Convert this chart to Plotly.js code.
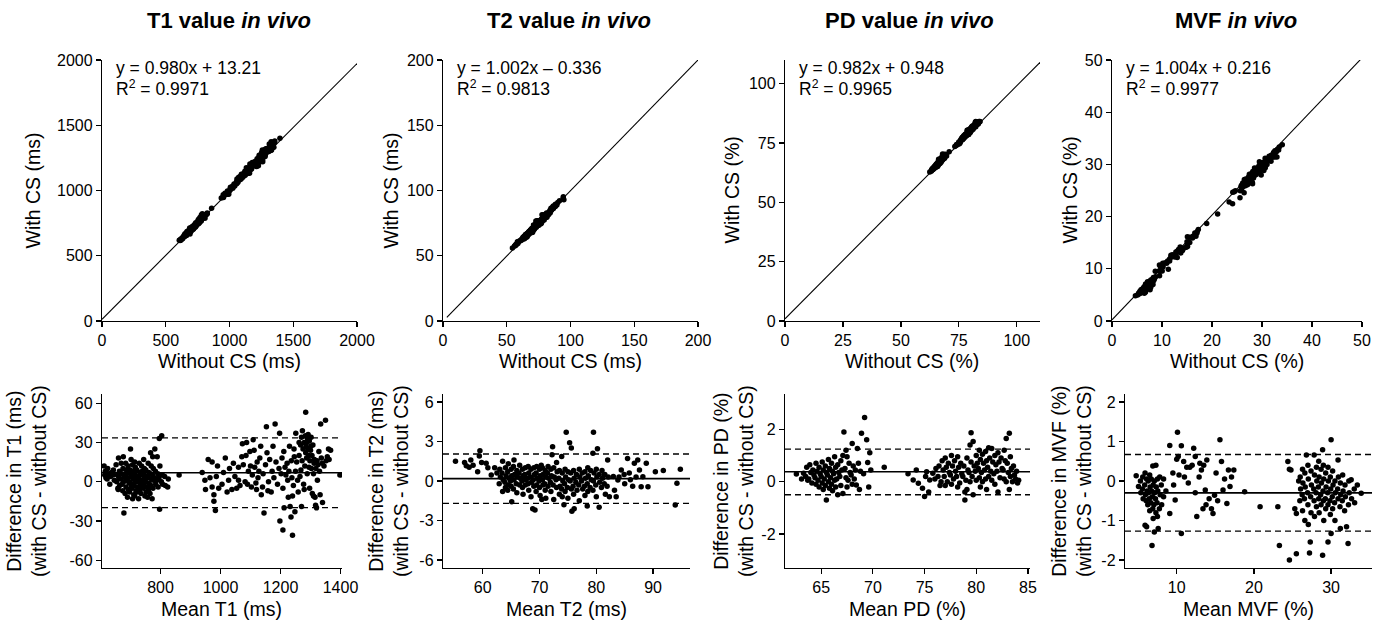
<!DOCTYPE html>
<html>
<head>
<meta charset="utf-8">
<script src="https://cdn.plot.ly/plotly-3.0.1.min.js"></script>
<style>html,body{margin:0;padding:0;background:#fff;}#chart{width:1374px;height:622px;}</style>
</head>
<body>
<div id="chart"></div>
<script>
// ---------------- DATA (Bland-Altman: [mean, difference]) ----------------
const panelTitles = ['T1 value <i>in vivo</i>', 'T2 value <i>in vivo</i>', 'PD value <i>in vivo</i>', 'MVF <i>in vivo</i>'];
const equations = ['y = 0.980x + 13.21', 'y = 1.002x \u2013 0.336', 'y = 0.982x + 0.948', 'y = 1.004x + 0.216'];
const r2Labels = ['R<sup>2</sup> = 0.9971', 'R<sup>2</sup> = 0.9813', 'R<sup>2</sup> = 0.9965', 'R<sup>2</sup> = 0.9977'];
const topXTitles = ['Without CS (ms)', 'Without CS (ms)', 'Without CS (%)', 'Without CS (%)'];
const topYTitles = ['With CS (ms)', 'With CS (ms)', 'With CS (%)', 'With CS (%)'];
const botXTitles = ['Mean T1 (ms)', 'Mean T2 (ms)', 'Mean PD (%)', 'Mean MVF (%)'];
const botYTitles = ['Difference in T1 (ms)<br>(with CS - without CS)', 'Difference in T2 (ms)<br>(with CS - without CS)',
                    'Difference in PD (%)<br>(with CS - without CS)', 'Difference in MVF (%)<br>(with CS - without CS)'];

// regression line end points
const t1LineX = [0, 2000], t1LineY = [13, 1973];
const t2LineX = [3, 200], t2LineY = [2.7, 200];
const pdLineX = [0, 110], pdLineY = [0.95, 109];
const mvfLineX = [0, 50], mvfLineY = [0.22, 50.4];

// Bland-Altman bias and limits of agreement [lower, mean, upper]
const t1Limits = [-19.8, 6.8, 33.5];
const t2Limits = [-1.7, 0.18, 2.05];
const pdLimits = [-0.5, 0.38, 1.24];
const mvfLimits = [-1.27, -0.30, 0.67];

// tick values
const topTicks = [[0,500,1000,1500,2000],[0,50,100,150,200],[0,25,50,75,100],[0,10,20,30,40,50]];
const botXTicks = [[800,1000,1200,1400],[60,70,80,90],[65,70,75,80,85],[10,20,30]];
const botYTicks = [[-60,-30,0,30,60],[-6,-3,0,3,6],[-2,0,2],[-2,-1,0,1,2]];

const t1Points = [
[612,12],[616,8],[614,5],[618,3],[624,10],[627,6],[622,2],[633,4],[637,7],[631,-2],
[643,9],[646,1],[641,5],[652,13],[656,5],[654,0],[658,-5],[660,18],[663,8],[661,3],[664,-3],[659,-6],
[669,14],[671,6],[668,2],[672,-2],[676,19],[678,-24],[675,10],[679,4],[677,0],[674,-7],
[684,14],[686,9],[683,5],[687,1],[685,-4],[682,-9],[692,12],[694,7],[691,3],[695,-1],[693,-6],[690,-12],
[700,25],[702,17],[699,9],[701,4],[698,0],[703,-3],[697,-8],
[707,13],[709,8],[706,5],[710,2],[708,-2],[705,-5],[711,-10],[707,-13],
[714,15],[716,11],[713,6],[717,3],[715,1],[712,-3],[718,-7],[714,-11],
[721,9],[723,4],[720,0],[724,-4],[722,-8],[729,14],[731,7],[728,2],[732,-1],[730,-6],[727,-13],
[737,12],[739,8],[736,5],[740,1],[738,-3],[735,-9],[744,17],[746,10],[743,6],[747,3],[745,-2],[742,-5],[748,-11],
[751,9],[753,4],[750,0],[754,-4],[752,-8],[759,14],[761,7],[758,3],[762,-1],[760,-6],[757,-12],
[767,22],[769,12],[766,6],[770,2],[768,-3],[765,-9],[774,19],[776,10],[773,5],[777,1],[775,-5],[772,-13],
[781,25],[783,8],[780,3],[784,-2],[789,19],[791,6],[788,1],[792,-4],[796,33],[798,12],[797,-21],[795,3],
[804,35],[806,5],[803,0],[807,-2],[814,4],[816,-3],[824,-4],[826,2],[862,5],
[939,7],[948,1],[950,-6],[959,17],[972,15],[972,-4],[978,-10],[978,-15],[983,-22],[986,4],
[994,-5],[1016,18],[1027,1],[1038,-6],[1043,14],[1054,-5],[1060,11],[1060,1],[1071,19],[1073,29],
[1082,0],[1087,30],[1093,8],[1098,23],[1103,-4],[1109,32],[1114,11],[1120,-6],[1125,3],[1131,18],
[1136,-10],[1142,6],[1145,-24],[1153,42],[1160,0],[1164,17],[1169,-8],[1175,27],[1182,44],[1197,37],
[1202,6],[1208,-5],[1211,23],[1215,11],[1208,-37],[1224,1],[1230,27],[1235,-27],[1240,-41],[1240,-11],
[1246,19],[1251,37],[1257,1],[1262,30],[1268,9],[1270,-19],[1273,39],[1284,53],[1279,-6],[1284,22],
[1290,33],[1295,11],[1301,27],[1306,-9],[1312,14],[1317,-18],[1323,1],[1328,23],[1334,44],[1339,14],
[1350,47],[1356,19],[1367,24],[1398,5],
[965,3],[990,12],[1005,-2],[1010,7],[1022,-8],[1030,10],[1048,4],[1065,-3],[1076,13],[1085,20],
[1090,-2],[1100,12],[1106,5],[1112,24],[1118,-1],[1122,15],[1128,8],[1134,27],[1140,-4],[1150,13],
[1155,22],[1158,-7],[1172,8],[1178,3],[1185,15],[1190,-2],[1195,10],[1198,-30],[1205,18],[1212,-20],
[1218,5],[1222,14],[1226,-12],[1228,8],[1232,-19],[1236,16],[1238,3],[1243,-3],[1245,25],[1248,-23],
[1250,8],[1254,15],[1259,-8],[1262,20],[1265,4],[1267,28],[1270,34],[1272,16],[1275,25],[1277,-2],
[1279,30],[1281,12],[1283,35],[1285,27],[1287,18],[1288,30],[1289,6],[1291,25],[1292,36],[1294,20],
[1296,31],[1297,-5],[1298,16],[1300,24],[1302,34],[1303,10],[1305,20],[1308,28],[1310,-11],[1310,6],
[1313,17],[1315,-12],[1318,10],[1320,-20],[1322,16],[1325,13],[1330,8],[1332,-10],[1336,18],[1340,-16],
[1345,12],[1352,16],[1360,25],[1362,17]
];

const t2Points = [
[55.2,1.5],[56.8,1.4],[57.1,1.15],[57.6,1.05],[57.9,1.6],[58.3,1.2],[59.1,0.7],[59.5,2.3],[59.4,1.9],[59.8,1.4],
[60.6,1.35],[60.9,1.0],[61.5,0.45],[62.1,1.0],[62.5,0.6],
[63.0,0.9],[63.1,0.3],[62.9,-0.2],[63.5,1.5],[63.4,0.6],[63.6,0.1],[63.5,-0.8],
[64.0,1.0],[64.1,0.4],[63.9,-0.1],[64.0,-0.5],[64.5,1.3],[64.4,0.7],[64.6,0.2],[64.5,-0.3],[64.4,-0.7],
[65.0,0.9],[65.1,0.4],[64.9,0.0],[65.0,-0.4],[65.1,-1.57],[65.5,1.6],[65.4,1.1],[65.6,0.5],[65.5,0.1],[65.4,-0.6],
[66.0,0.8],[66.1,0.3],[65.9,-0.2],[66.0,-0.9],[66.5,1.2],[66.4,0.6],[66.6,0.2],[66.5,-0.3],
[67.0,0.9],[67.1,0.4],[66.9,0.0],[67.0,-0.5],[67.1,-1.0],[67.5,1.0],[67.4,0.5],[67.6,0.1],[67.5,-0.3],
[68.0,1.1],[68.1,0.6],[67.9,0.2],[68.0,-0.2],[68.1,-0.7],[68.5,0.9],[68.4,0.3],[68.6,-0.1],[68.5,-1.2],[68.8,-2.1],
[69.0,1.0],[69.1,0.5],[68.9,0.1],[69.0,-0.4],[69.2,-2.2],[69.5,1.1],[69.4,0.6],[69.6,0.2],[69.5,-0.3],[69.4,-0.8],
[70.0,0.9],[70.1,0.4],[69.9,0.0],[70.0,-0.5],[70.1,-1.1],[70.4,-1.4],[70.3,1.2],
[70.5,1.0],[70.6,0.5],[70.5,0.1],[70.6,-0.3],[71.0,0.8],[71.1,0.3],[70.9,-0.2],[71.0,-0.7],[71.1,-1.3],
[71.5,1.1],[71.4,0.6],[71.6,0.2],[71.5,-0.4],[72.0,0.9],[72.1,0.4],[71.9,-0.1],[72.0,-0.8],[72.2,2.0],[72.3,2.6],
[72.5,1.0],[72.6,0.3],[72.4,-0.3],[72.5,-1.4],[73.0,1.4],[73.1,0.7],[72.9,0.1],[73.0,-0.5],
[73.5,0.8],[73.4,0.2],[73.6,-0.4],[73.5,-1.0],[73.9,1.86],[74.0,0.6],[74.1,0.0],[73.9,-0.6],[74.0,-1.2],[74.3,-1.8],
[74.5,0.9],[74.6,0.3],[74.4,-0.2],[74.5,-0.8],[74.7,3.7],[75.0,0.7],[75.1,0.1],[74.9,-0.5],[75.0,-1.3],
[75.3,2.9],[75.6,2.5],[75.7,-2.3],[75.5,0.6],[75.4,0.0],[75.6,-0.6],
[76.0,0.8],[76.1,0.2],[75.9,-0.4],[76.0,-1.0],[76.1,-2.1],[76.5,0.5],[76.4,-0.1],[76.6,-0.7],
[77.0,0.9],[77.1,0.3],[76.9,-0.3],[77.0,-1.5],[77.5,0.6],[77.4,0.0],[77.6,-0.6],
[78.0,0.7],[78.1,0.2],[77.9,-0.4],[78.0,-1.1],[78.4,-1.9],[78.5,1.0],[78.6,0.4],[78.4,-0.2],[78.5,-0.8],
[79.0,0.8],[79.1,0.1],[78.9,-0.5],[79.5,3.7],[79.4,2.1],[79.6,0.6],[79.5,0.0],[79.4,-0.7],
[80.0,0.9],[80.1,0.3],[79.9,-0.3],[80.0,-1.2],[80.2,2.45],[80.5,0.5],[80.6,-0.1],[80.5,-2.0],
[81.0,0.8],[81.1,0.2],[80.9,-0.5],[81.5,0.5],[81.4,-0.2],[81.6,-1.0],[82.0,1.6],[82.1,0.3],[81.9,-0.4],
[81.4,0.46],[82.3,-1.2],[83.2,-0.7],[83.5,-1.2],[83.8,0.08],[84.4,0.84],[85.0,-0.2],[85.5,1.7],[85.8,0.6],
[86.4,-0.4],[86.7,1.35],[87.3,1.6],[87.6,0.84],[87.9,-0.43],[88.2,0.33],[88.8,1.35],[89.1,-0.43],
[90.4,0.7],[91.8,0.8],[94.2,-0.18],[94.8,0.9],[93.9,-1.83],
[84.0,0.3],[84.9,0.5],[86.0,0.1],[87.0,0.3],[83.0,0.35]
];

const pdPoints = [
[62.6,0.29],[63.1,0.1],[63.3,0.32],[63.6,0.55],[63.5,0.2],[63.7,0.05],[63.9,0.65],[64.0,0.35],[63.8,0.1],
[64.2,0.45],[64.3,0.25],[64.1,-0.05],[64.5,0.7],[64.6,0.4],[64.4,0.15],[64.5,-0.1],
[64.8,0.55],[64.9,0.3],[64.7,0.05],[64.8,-0.2],[65.1,0.75],[65.2,0.45],[65.0,0.2],[65.1,-0.05],[65.2,-0.3],
[65.4,0.6],[65.5,0.35],[65.3,0.1],[65.4,-0.15],[65.5,-0.7],[65.7,0.85],[65.8,0.5],[65.6,0.25],[65.7,0.0],[65.8,-0.25],
[66.0,0.7],[66.1,0.4],[65.9,0.15],[66.0,-0.1],[66.1,-0.35],[66.3,0.95],[66.4,0.55],[66.2,0.3],[66.3,0.05],[66.4,-0.2],
[66.6,0.65],[66.7,0.35],[66.5,0.1],[66.6,-0.5],[66.9,0.8],[67.0,0.45],[66.8,0.2],[66.9,-0.15],
[67.1,1.0],[67.1,-0.45],[67.2,1.9],[67.4,1.2],[67.5,0.95],[67.3,0.5],[67.4,0.15],[67.5,-0.2],
[67.7,0.7],[67.8,0.35],[67.6,0.05],[68.0,1.46],[68.1,0.6],[67.9,0.25],[68.0,-0.1],[68.3,0.45],[68.2,0.1],[68.4,-0.13],
[68.5,1.27],[68.6,0.7],[68.7,-0.3],[68.8,0.4],[68.9,1.85],[69.2,2.45],[69.1,0.3],[69.4,1.6],[69.5,0.73],[69.7,1.1],
[69.8,0.45],[69.6,-0.2],[71.1,0.55],
[73.4,0.3],[73.9,0.06],[74.2,0.45],[74.4,-0.06],[74.8,-0.25],[75.0,-0.57],[75.1,0.2],[75.2,0.38],[75.5,0.06],[75.4,-0.4],
[75.8,0.32],[76.1,0.5],[76.0,0.1],[76.4,0.6],[76.3,0.2],[76.5,-0.15],[76.7,0.8],[76.8,0.45],[76.6,0.0],
[77.0,0.9],[77.1,0.55],[76.9,0.2],[77.0,-0.15],[77.3,0.7],[77.4,0.35],[77.2,0.0],
[77.6,1.0],[77.7,0.6],[77.5,0.25],[77.6,-0.1],[77.9,0.8],[78.0,0.4],[77.8,0.1],
[78.2,0.95],[78.3,0.55],[78.1,0.2],[78.2,-0.2],[78.5,0.7],[78.6,0.3],[78.4,-0.05],[78.8,0.6],[78.7,0.2],[78.9,-0.4],[78.9,-0.7],
[79.1,0.9],[79.2,0.45],[79.0,0.05],[79.1,-0.3],[79.4,1.4],[79.5,0.75],[79.3,0.35],[79.4,0.0],[79.5,1.87],
[79.7,1.53],[79.8,0.6],[79.6,0.2],[79.7,-0.5],[80.0,1.0],[80.1,0.7],[79.9,0.4],[80.0,0.05],
[80.3,1.2],[80.4,0.85],[80.2,0.5],[80.3,0.15],[80.4,-0.2],[80.6,1.05],[80.7,0.7],[80.5,0.35],[80.6,0.0],
[80.9,1.15],[81.0,0.8],[80.8,0.45],[80.9,0.1],[81.0,-0.3],[81.2,1.3],[81.3,0.9],[81.1,0.55],[81.2,0.2],
[81.5,1.27],[81.6,0.75],[81.4,0.4],[81.5,0.05],[81.8,1.0],[81.9,0.65],[81.7,0.3],[81.8,-0.1],
[82.1,1.1],[82.2,0.75],[82.0,0.4],[82.1,-0.4],[82.4,0.9],[82.5,0.5],[82.3,0.15],
[82.7,1.2],[82.8,0.8],[82.6,0.45],[82.7,0.1],[82.9,1.65],[83.0,0.7],[83.1,0.35],[82.9,0.0],[83.2,1.85],[83.2,-0.3],
[83.3,0.95],[83.4,0.5],[83.3,0.2],[83.6,0.6],[83.7,0.25],[83.5,0.0],[83.9,0.4],[83.8,0.1],[84.0,-0.05],[84.1,0.05]
];

const mvfPoints = [
[4.75,0.13],[5.05,-0.14],[5.3,0.0],[5.35,-0.3],[5.6,0.1],[5.55,-0.2],[5.65,-0.45],
[5.9,0.2],[5.85,-0.1],[5.95,-0.35],[5.9,-1.12],[6.1,0.05],[6.15,-0.25],[6.05,-0.5],[6.1,-1.16],
[6.3,0.0],[6.35,-0.3],[6.25,-0.6],[6.5,0.15],[6.55,-0.15],[6.45,-0.45],[6.5,-0.75],
[6.7,0.05],[6.75,-0.25],[6.65,-0.55],[6.8,-1.63],[6.9,0.38],[6.95,-0.1],[6.85,-0.4],[6.9,-0.7],[6.95,-0.95],
[7.1,0.0],[7.15,-0.3],[7.05,-0.6],[7.1,-1.29],[7.3,0.4],[7.35,-0.15],[7.25,-0.45],[7.3,-0.8],
[7.5,0.05],[7.55,-0.25],[7.45,-0.55],[7.5,-0.9],[7.6,-1.2],[7.8,0.1],[7.85,-0.35],[7.75,-0.7],
[8.0,-0.1],[8.05,-0.6],[8.3,0.05],[8.3,-0.4],[8.6,-0.25],[9.1,-0.82],
[9.1,0.9],[9.5,0.2],[9.6,-0.1],[9.8,-0.48],[10.0,0.55],[10.1,1.23],[10.2,0.62],[10.3,0.15],[10.6,0.89],[10.6,-1.33],
[10.9,0.49],[11.0,0.1],[11.3,0.35],[11.5,-0.05],[11.7,0.35],[12.0,0.4],[12.2,0.83],[12.4,0.62],[12.4,-0.3],[12.6,-0.9],
[12.9,0.1],[13.0,0.45],[13.2,0.28],[13.4,-0.7],[13.5,0.4],[13.7,-0.23],[13.8,-0.6],[13.9,0.53],[14.2,-0.45],[14.5,-0.7],
[14.7,-0.82],[14.9,-0.36],[15.1,0.2],[15.3,-0.5],[15.6,1.04],[15.8,0.49],[16.0,-0.23],[16.2,0.05],[16.5,-0.57],[16.7,0.28],
[16.9,-0.14],[17.1,0.1],[17.4,0.28],[18.8,-0.27],[20.8,-0.65],
[23.1,-0.65],[23.3,-1.63],[24.4,0.49],[24.6,-2.0],[24.6,0.3],[24.8,0.28],[25.3,-0.7],[25.5,-1.84],[25.5,-0.82],[25.8,0.0],
[26.0,0.1],[26.05,-0.2],[25.95,-0.5],[26.3,0.3],[26.35,-0.05],[26.25,-0.35],[26.3,-0.75],
[26.6,0.2],[26.65,-0.15],[26.55,-0.45],[26.6,-1.0],[26.8,0.66],[27.0,0.4],[27.05,0.05],[26.95,-0.3],[27.0,-0.6],[27.05,-1.1],
[27.2,-1.82],[27.3,-1.54],[27.4,0.25],[27.45,-0.1],[27.35,-0.4],[27.4,-0.8],
[27.8,0.66],[27.85,0.15],[27.75,-0.2],[27.8,-0.5],[27.85,-0.9],[28.1,0.35],[28.15,0.0],[28.05,-0.3],[28.1,-0.65],
[28.4,0.5],[28.45,0.1],[28.35,-0.15],[28.4,-0.45],[28.45,-0.8],[28.7,0.3],[28.75,-0.05],[28.65,-0.35],[28.7,-0.6],
[28.9,0.79],[28.9,-1.88],[29.0,0.4],[29.05,0.05],[28.95,-0.25],[29.0,-0.5],[29.05,-1.0],
[29.3,0.2],[29.35,-0.15],[29.25,-0.45],[29.3,-0.7],[29.6,-1.54],[29.6,0.35],[29.65,0.0],[29.55,-0.3],[29.6,-0.6],
[29.9,0.1],[29.95,-0.2],[29.85,-0.5],[29.9,-0.85],[30.0,1.04],[30.0,-1.33],
[30.2,0.25],[30.25,-0.1],[30.15,-0.4],[30.2,-0.7],[30.5,0.0],[30.55,-0.3],[30.45,-0.55],[30.5,-1.0],
[30.9,0.53],[30.95,0.1],[30.85,-0.2],[30.9,-0.45],[31.2,-0.05],[31.25,-0.35],[31.15,-0.65],[31.2,-1.2],
[31.5,0.15],[31.55,-0.25],[31.45,-0.5],[31.8,-0.1],[31.85,-0.4],[31.75,-0.75],[32.0,-1.16],[32.2,-1.58],
[32.3,0.0],[32.35,-0.3],[32.25,-0.6],[32.6,0.03],[32.65,-0.45],[33.0,-0.2],[33.05,-0.55],[33.4,-0.1],[33.9,-0.31]
];

// ---------------- LAYOUT GEOMETRY ----------------
const W = 1374, H = 622;
const FONT = 'Liberation Sans, Arial, Helvetica, sans-serif';
const topX = [[102,357],[443,698],[785,1040],[1112,1362]];
const botX = [[102,342],[443,690],[785,1030],[1125,1372]];
const topY = [60, 321];
const botY = [394, 568];
const topRanges = [[0,2000],[0,200],[0,110],[0,50]];
const botXRanges = [[605,1405],[53,96.5],[61.5,85.2],[3.3,35.3]];
const botYRanges = [[-66,67],[-6.6,6.6],[-3.3,3.35],[-2.2,2.2]];
const titleCenters = [229, 569, 909, 1236];
const topYTitleX = [32, 390, 731, 1069];
const botYTitleX = [26, 388, 733, 1071];

const px = v => v / W;
const py = v => 1 - v / H;

const allPoints = [t1Points, t2Points, pdPoints, mvfPoints];
const lineXs = [t1LineX, t2LineX, pdLineX, mvfLineX];
const lineYs = [t1LineY, t2LineY, pdLineY, mvfLineY];
const limits = [t1Limits, t2Limits, pdLimits, mvfLimits];

const traces = [];
const layout = {
  width: W, height: H, showlegend: false,
  margin: {l: 0, r: 0, t: 0, b: 0},
  paper_bgcolor: '#fff', plot_bgcolor: '#fff',
  font: {family: FONT, color: '#000', size: 16},
  annotations: [], shapes: []
};

function axis(domain, range, tickvals, anchor) {
  return {
    domain: domain, range: range, anchor: anchor,
    tickvals: tickvals, ticktext: tickvals.map(v => String(v)),
    showline: true, linecolor: '#000', linewidth: 1.2,
    ticks: 'outside', ticklen: 5, tickwidth: 1.2, tickcolor: '#000',
    showgrid: false, zeroline: false, automargin: false,
    ticklabeloverflow: 'allow',
    tickfont: {family: FONT, size: 16, color: '#000'}
  };
}

const markerStyle = {color: '#000', size: 5.5};
const TITLE_SIZE = 19.5;

for (let i = 0; i < 4; i++) {
  const n = i + 1, m = i + 5;
  const xa = 'xaxis' + (n === 1 ? '' : n), ya = 'yaxis' + (n === 1 ? '' : n);
  const xb = 'xaxis' + m, yb = 'yaxis' + m;
  const xr = 'x' + (n === 1 ? '' : n), yr = 'y' + (n === 1 ? '' : n);
  layout[xa] = axis([px(topX[i][0]), px(topX[i][1])], topRanges[i], topTicks[i], yr);
  layout[ya] = axis([py(topY[1]), py(topY[0])], topRanges[i], topTicks[i], xr);
  layout[xb] = axis([px(botX[i][0]), px(botX[i][1])], botXRanges[i], botXTicks[i], 'y' + m);
  layout[yb] = axis([py(botY[1]), py(botY[0])], botYRanges[i], botYTicks[i], 'x' + m);

  const pts = allPoints[i];
  // top: with CS vs without CS, reconstructed from the same measurements
  traces.push({type: 'scatter', mode: 'lines', x: lineXs[i], y: lineYs[i], xaxis: xr, yaxis: yr,
               line: {color: '#000', width: 1.1}, hoverinfo: 'skip'});
  traces.push({type: 'scatter', mode: 'markers', xaxis: xr, yaxis: yr,
               x: pts.map(p => p[0] - p[1] / 2), y: pts.map(p => p[0] + p[1] / 2), marker: markerStyle});
  // bottom: Bland-Altman
  traces.push({type: 'scatter', mode: 'markers', xaxis: 'x' + m, yaxis: 'y' + m,
               x: pts.map(p => p[0]), y: pts.map(p => p[1]), marker: markerStyle});

  const L = limits[i];
  layout.shapes.push({type: 'line', xref: 'x' + m + ' domain', yref: 'y' + m, x0: 0, x1: 1, y0: L[1], y1: L[1],
                      line: {color: '#000', width: 1.6}});
  [L[0], L[2]].forEach(v => layout.shapes.push({type: 'line', xref: 'x' + m + ' domain', yref: 'y' + m,
                      x0: 0, x1: 1, y0: v, y1: v, line: {color: '#000', width: 1.3, dash: '6px,4px'}}));

  // titles and labels
  layout.annotations.push({text: '<b>' + panelTitles[i] + '</b>', xref: 'paper', yref: 'paper',
    x: px(titleCenters[i]), y: py(20), xanchor: 'center', yanchor: 'middle', showarrow: false,
    font: {family: FONT, size: 22, color: '#000'}});
  layout.annotations.push({text: equations[i], xref: 'paper', yref: 'paper',
    x: px(topX[i][0] + 12), y: py(68), xanchor: 'left', yanchor: 'middle', showarrow: false,
    font: {family: FONT, size: 17.5, color: '#000'}});
  layout.annotations.push({text: r2Labels[i], xref: 'paper', yref: 'paper',
    x: px(topX[i][0] + 12), y: py(88), xanchor: 'left', yanchor: 'middle', showarrow: false,
    font: {family: FONT, size: 17.5, color: '#000'}});
  layout.annotations.push({text: topXTitles[i], xref: 'paper', yref: 'paper',
    x: px((topX[i][0] + topX[i][1]) / 2), y: py(361), xanchor: 'center', yanchor: 'middle', showarrow: false,
    font: {family: FONT, size: TITLE_SIZE, color: '#000'}});
  layout.annotations.push({text: topYTitles[i], xref: 'paper', yref: 'paper', textangle: -90,
    x: px(topYTitleX[i]), y: py((topY[0] + topY[1]) / 2), xanchor: 'center', yanchor: 'middle', showarrow: false,
    font: {family: FONT, size: TITLE_SIZE, color: '#000'}});
  layout.annotations.push({text: botXTitles[i], xref: 'paper', yref: 'paper',
    x: px((botX[i][0] + botX[i][1]) / 2), y: py(609), xanchor: 'center', yanchor: 'middle', showarrow: false,
    font: {family: FONT, size: TITLE_SIZE, color: '#000'}});
  layout.annotations.push({text: botYTitles[i], xref: 'paper', yref: 'paper', textangle: -90,
    x: px(botYTitleX[i]), y: py((botY[0] + botY[1]) / 2), xanchor: 'center', yanchor: 'middle', showarrow: false,
    font: {family: FONT, size: TITLE_SIZE, color: '#000'}});
}

Plotly.newPlot('chart', traces, layout, {staticPlot: true, displayModeBar: false});
</script>
</body>
</html>
